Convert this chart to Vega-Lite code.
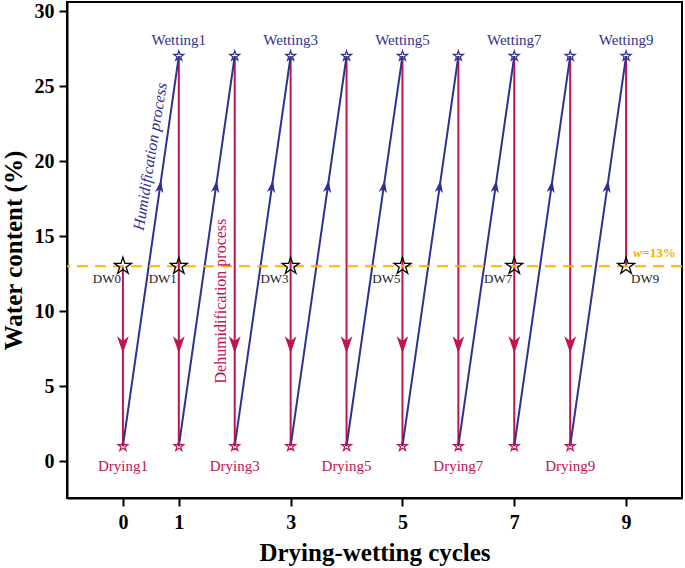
{
  "$schema": "https://vega.github.io/schema/vega-lite/v6.json",
  "width": 615,
  "height": 496,
  "autosize": "none",
  "padding": {"left": 67, "top": 2, "right": 3, "bottom": 70},
  "background": "white",
  "config": {
    "view": {"stroke": "black", "strokeWidth": 2},
    "font": "Liberation Serif",
    "axis": {
      "grid": false,
      "domainColor": "black",
      "domainWidth": 2,
      "tickColor": "black",
      "tickWidth": 2,
      "tickSize": 8,
      "labelFont": "Liberation Serif",
      "labelFontWeight": "bold",
      "labelFontSize": 20,
      "labelColor": "black",
      "titleFont": "Liberation Serif",
      "titleFontWeight": "bold",
      "titleFontSize": 25,
      "titleColor": "black"
    }
  },
  "datasets": {
    "segs": [
      {"x": 0, "y": 13, "x2": 0, "y2": 1, "kind": "dry"},
      {"x": 1, "y": 27, "x2": 1, "y2": 1, "kind": "dry"},
      {"x": 2, "y": 27, "x2": 2, "y2": 1, "kind": "dry"},
      {"x": 3, "y": 27, "x2": 3, "y2": 1, "kind": "dry"},
      {"x": 4, "y": 27, "x2": 4, "y2": 1, "kind": "dry"},
      {"x": 5, "y": 27, "x2": 5, "y2": 1, "kind": "dry"},
      {"x": 6, "y": 27, "x2": 6, "y2": 1, "kind": "dry"},
      {"x": 7, "y": 27, "x2": 7, "y2": 1, "kind": "dry"},
      {"x": 8, "y": 27, "x2": 8, "y2": 1, "kind": "dry"},
      {"x": 9, "y": 27, "x2": 9, "y2": 13, "kind": "dry"},
      {"x": 0, "y": 1, "x2": 1, "y2": 27, "kind": "wet"},
      {"x": 1, "y": 1, "x2": 2, "y2": 27, "kind": "wet"},
      {"x": 2, "y": 1, "x2": 3, "y2": 27, "kind": "wet"},
      {"x": 3, "y": 1, "x2": 4, "y2": 27, "kind": "wet"},
      {"x": 4, "y": 1, "x2": 5, "y2": 27, "kind": "wet"},
      {"x": 5, "y": 1, "x2": 6, "y2": 27, "kind": "wet"},
      {"x": 6, "y": 1, "x2": 7, "y2": 27, "kind": "wet"},
      {"x": 7, "y": 1, "x2": 8, "y2": 27, "kind": "wet"},
      {"x": 8, "y": 1, "x2": 9, "y2": 27, "kind": "wet"}
    ],
    "ref": [{"y": 13}],
    "arrows": [
      {"x": 0, "y": 7.83, "kind": "down"},
      {"x": 1, "y": 7.83, "kind": "down"},
      {"x": 2, "y": 7.83, "kind": "down"},
      {"x": 3, "y": 7.83, "kind": "down"},
      {"x": 4, "y": 7.83, "kind": "down"},
      {"x": 5, "y": 7.83, "kind": "down"},
      {"x": 6, "y": 7.83, "kind": "down"},
      {"x": 7, "y": 7.83, "kind": "down"},
      {"x": 8, "y": 7.83, "kind": "down"},
      {"x": 0.664, "y": 18.26, "kind": "up"},
      {"x": 1.664, "y": 18.26, "kind": "up"},
      {"x": 2.664, "y": 18.26, "kind": "up"},
      {"x": 3.664, "y": 18.26, "kind": "up"},
      {"x": 4.664, "y": 18.26, "kind": "up"},
      {"x": 5.664, "y": 18.26, "kind": "up"},
      {"x": 6.664, "y": 18.26, "kind": "up"},
      {"x": 7.664, "y": 18.26, "kind": "up"},
      {"x": 8.664, "y": 18.26, "kind": "up"}
    ],
    "stars": [
      {"x": 1, "y": 27, "kind": "top"},
      {"x": 2, "y": 27, "kind": "top"},
      {"x": 3, "y": 27, "kind": "top"},
      {"x": 4, "y": 27, "kind": "top"},
      {"x": 5, "y": 27, "kind": "top"},
      {"x": 6, "y": 27, "kind": "top"},
      {"x": 7, "y": 27, "kind": "top"},
      {"x": 8, "y": 27, "kind": "top"},
      {"x": 9, "y": 27, "kind": "top"},
      {"x": 0, "y": 1, "kind": "bottom"},
      {"x": 1, "y": 1, "kind": "bottom"},
      {"x": 2, "y": 1, "kind": "bottom"},
      {"x": 3, "y": 1, "kind": "bottom"},
      {"x": 4, "y": 1, "kind": "bottom"},
      {"x": 5, "y": 1, "kind": "bottom"},
      {"x": 6, "y": 1, "kind": "bottom"},
      {"x": 7, "y": 1, "kind": "bottom"},
      {"x": 8, "y": 1, "kind": "bottom"},
      {"x": 0, "y": 13, "kind": "dw"},
      {"x": 1, "y": 13, "kind": "dw"},
      {"x": 3, "y": 13, "kind": "dw"},
      {"x": 5, "y": 13, "kind": "dw"},
      {"x": 7, "y": 13, "kind": "dw"},
      {"x": 9, "y": 13, "kind": "dw"}
    ],
    "labels": [
      {"x": 1, "y": 28.1, "text": "Wetting1", "kind": "wet"},
      {"x": 3, "y": 28.1, "text": "Wetting3", "kind": "wet"},
      {"x": 5, "y": 28.1, "text": "Wetting5", "kind": "wet"},
      {"x": 7, "y": 28.1, "text": "Wetting7", "kind": "wet"},
      {"x": 9, "y": 28.1, "text": "Wetting9", "kind": "wet"},
      {"x": 0, "y": -0.33, "text": "Drying1", "kind": "dry"},
      {"x": 2, "y": -0.33, "text": "Drying3", "kind": "dry"},
      {"x": 4, "y": -0.33, "text": "Drying5", "kind": "dry"},
      {"x": 6, "y": -0.33, "text": "Drying7", "kind": "dry"},
      {"x": 8, "y": -0.33, "text": "Drying9", "kind": "dry"},
      {"x": 0, "y": 12.13, "text": "DW0", "kind": "dwl"},
      {"x": 1, "y": 12.13, "text": "DW1", "kind": "dwl"},
      {"x": 3, "y": 12.13, "text": "DW3", "kind": "dwl"},
      {"x": 5, "y": 12.13, "text": "DW5", "kind": "dwl"},
      {"x": 7, "y": 12.13, "text": "DW7", "kind": "dwl"},
      {"x": 9, "y": 12.13, "text": "DW9", "kind": "dwr"},
      {"x": 9.13, "y": 13.9, "text": "w", "kind": "w"},
      {"x": 9.13, "y": 13.9, "text": "=13%", "kind": "pct"},
      {"x": 0.49, "y": 20.3, "text": "Humidification process", "kind": "hum"},
      {"x": 1.76, "y": 10.67, "text": "Dehumidification process", "kind": "dehum"}
    ]
  },
  "layer": [
    {
      "data": {"name": "segs"},
      "mark": {"type": "rule", "strokeWidth": 2},
      "encoding": {
        "x": {"field": "x", "type": "quantitative", "scale": {"domain": [-1, 10], "nice": false, "zero": false},
              "axis": {"values": [0, 1, 3, 5, 7, 9], "format": "d", "orient": "bottom", "title": "Drying-wetting cycles", "labelPadding": 6, "titlePadding": 8}},
        "x2": {"field": "x2"},
        "y": {"field": "y", "type": "quantitative", "scale": {"domain": [-2.45, 30.6], "nice": false, "zero": false},
              "axis": {"values": [0, 5, 10, 15, 20, 25, 30], "format": "d", "orient": "left", "title": "Water content (%)", "labelPadding": 5, "titlePadding": 8}},
        "y2": {"field": "y2"},
        "color": {"field": "kind", "type": "nominal", "scale": {"domain": ["dry", "wet"], "range": ["#C2134F", "#2E3192"]}, "legend": null}
      }
    },
    {
      "data": {"name": "ref"},
      "mark": {"type": "rule", "color": "#FFB300", "strokeWidth": 2, "strokeDash": [11, 7]},
      "encoding": {
        "y": {"field": "y", "type": "quantitative"}
      }
    },
    {
      "data": {"name": "arrows"},
      "transform": [{"filter": "datum.kind === 'down'"}],
      "mark": {"type": "point", "filled": true, "color": "#C2134F", "opacity": 1, "size": 357, "strokeWidth": 0,
               "shape": "M0,1L-0.62,-0.8L0,-0.3L0.62,-0.8Z"},
      "encoding": {
        "x": {"field": "x", "type": "quantitative"},
        "y": {"field": "y", "type": "quantitative"}
      }
    },
    {
      "data": {"name": "arrows"},
      "transform": [{"filter": "datum.kind === 'up'"}],
      "mark": {"type": "point", "filled": true, "color": "#2E3192", "opacity": 1, "size": 190, "strokeWidth": 0, "angle": 8,
               "shape": "M0,-1L-0.6,0.8L0,0.3L0.6,0.8Z"},
      "encoding": {
        "x": {"field": "x", "type": "quantitative"},
        "y": {"field": "y", "type": "quantitative"}
      }
    },
    {
      "data": {"name": "stars"},
      "transform": [{"filter": "datum.kind === 'top'"}],
      "mark": {"type": "point", "filled": false, "color": "#2E3192", "opacity": 1, "size": 110, "strokeWidth": 1.2,
               "shape": "M0,-1L0.225,-0.309L0.951,-0.309L0.363,0.118L0.588,0.809L0,0.382L-0.588,0.809L-0.363,0.118L-0.951,-0.309L-0.225,-0.309Z"},
      "encoding": {
        "x": {"field": "x", "type": "quantitative"},
        "y": {"field": "y", "type": "quantitative"}
      }
    },
    {
      "data": {"name": "stars"},
      "transform": [{"filter": "datum.kind === 'bottom'"}],
      "mark": {"type": "point", "filled": false, "color": "#C2134F", "opacity": 1, "size": 110, "strokeWidth": 1.2,
               "shape": "M0,-1L0.225,-0.309L0.951,-0.309L0.363,0.118L0.588,0.809L0,0.382L-0.588,0.809L-0.363,0.118L-0.951,-0.309L-0.225,-0.309Z"},
      "encoding": {
        "x": {"field": "x", "type": "quantitative"},
        "y": {"field": "y", "type": "quantitative"}
      }
    },
    {
      "data": {"name": "stars"},
      "transform": [{"filter": "datum.kind === 'dw'"}],
      "mark": {"type": "point", "filled": false, "color": "black", "opacity": 1, "size": 320, "strokeWidth": 1.3,
               "shape": "M0,-1L0.225,-0.309L0.951,-0.309L0.363,0.118L0.588,0.809L0,0.382L-0.588,0.809L-0.363,0.118L-0.951,-0.309L-0.225,-0.309Z"},
      "encoding": {
        "x": {"field": "x", "type": "quantitative"},
        "y": {"field": "y", "type": "quantitative"}
      }
    },
    {
      "data": {"name": "labels"},
      "transform": [{"filter": "datum.kind === 'wet'"}],
      "mark": {"type": "text", "font": "Liberation Serif", "fontSize": 15, "color": "#2E3192", "baseline": "middle", "align": "center"},
      "encoding": {
        "x": {"field": "x", "type": "quantitative"},
        "y": {"field": "y", "type": "quantitative"},
        "text": {"field": "text"}
      }
    },
    {
      "data": {"name": "labels"},
      "transform": [{"filter": "datum.kind === 'dry'"}],
      "mark": {"type": "text", "font": "Liberation Serif", "fontSize": 15, "color": "#C2134F", "baseline": "middle", "align": "center"},
      "encoding": {
        "x": {"field": "x", "type": "quantitative"},
        "y": {"field": "y", "type": "quantitative"},
        "text": {"field": "text"}
      }
    },
    {
      "data": {"name": "labels"},
      "transform": [{"filter": "datum.kind === 'dwl'"}],
      "mark": {"type": "text", "font": "Liberation Serif", "fontSize": 13, "color": "#222222", "baseline": "middle", "align": "right", "dx": -2},
      "encoding": {
        "x": {"field": "x", "type": "quantitative"},
        "y": {"field": "y", "type": "quantitative"},
        "text": {"field": "text"}
      }
    },
    {
      "data": {"name": "labels"},
      "transform": [{"filter": "datum.kind === 'dwr'"}],
      "mark": {"type": "text", "font": "Liberation Serif", "fontSize": 13, "color": "#222222", "baseline": "middle", "align": "left", "dx": 5},
      "encoding": {
        "x": {"field": "x", "type": "quantitative"},
        "y": {"field": "y", "type": "quantitative"},
        "text": {"field": "text"}
      }
    },
    {
      "data": {"name": "labels"},
      "transform": [{"filter": "datum.kind === 'w'"}],
      "mark": {"type": "text", "font": "Liberation Serif", "fontSize": 13, "fontWeight": "bold", "fontStyle": "italic", "color": "#F5AE00", "baseline": "middle", "align": "left"},
      "encoding": {
        "x": {"field": "x", "type": "quantitative"},
        "y": {"field": "y", "type": "quantitative"},
        "text": {"field": "text"}
      }
    },
    {
      "data": {"name": "labels"},
      "transform": [{"filter": "datum.kind === 'pct'"}],
      "mark": {"type": "text", "font": "Liberation Serif", "fontSize": 13, "fontWeight": "bold", "color": "#F5AE00", "baseline": "middle", "align": "left", "dx": 9},
      "encoding": {
        "x": {"field": "x", "type": "quantitative"},
        "y": {"field": "y", "type": "quantitative"},
        "text": {"field": "text"}
      }
    },
    {
      "data": {"name": "labels"},
      "transform": [{"filter": "datum.kind === 'hum'"}],
      "mark": {"type": "text", "font": "Liberation Serif", "fontSize": 16, "fontStyle": "italic", "color": "#2E3192", "baseline": "middle", "align": "center", "angle": 279},
      "encoding": {
        "x": {"field": "x", "type": "quantitative"},
        "y": {"field": "y", "type": "quantitative"},
        "text": {"field": "text"}
      }
    },
    {
      "data": {"name": "labels"},
      "transform": [{"filter": "datum.kind === 'dehum'"}],
      "mark": {"type": "text", "font": "Liberation Serif", "fontSize": 16, "color": "#C2134F", "baseline": "middle", "align": "center", "angle": 270},
      "encoding": {
        "x": {"field": "x", "type": "quantitative"},
        "y": {"field": "y", "type": "quantitative"},
        "text": {"field": "text"}
      }
    }
  ]
}
